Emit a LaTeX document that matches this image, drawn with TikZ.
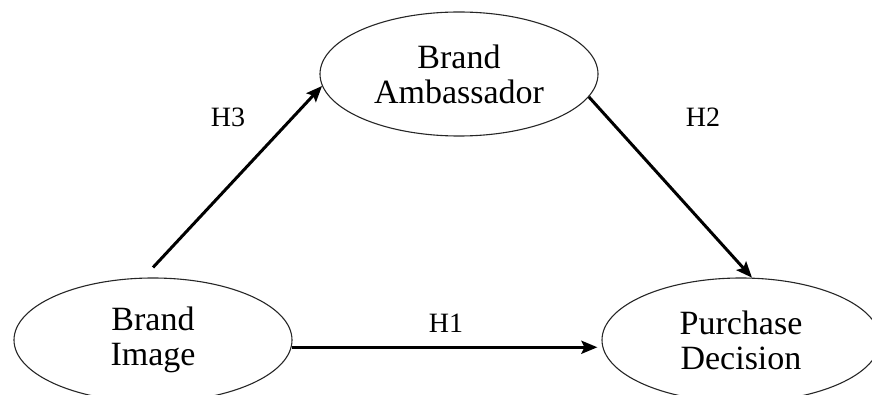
\documentclass[tikz,border=0pt]{standalone}
\usepackage{fontspec}
\setmainfont{Liberation Serif}
\usetikzlibrary{arrows.meta,shapes.geometric}
\tikzset{
  construct/.style={ellipse,draw=black!85,line width=1.1pt,minimum width=278pt,minimum height=124pt,inner sep=0pt,align=center,font=\fontsize{34}{35}\selectfont},
  path/.style={draw=black,line width=3pt,-{Stealth[length=16pt,width=13pt,inset=3pt]}},
  hyp/.style={font=\fontsize{28}{30}\selectfont,inner sep=0pt}
}
\begin{document}
\begin{tikzpicture}[x=1pt,y=1pt]
\useasboundingbox (0,0) rectangle (872,394);
\node[construct] (bi) at (153,54) {Brand\\Image};
\node[construct] (ba) at (459,320) {Brand\\Ambassador};
\node[construct] (pd) at (741,54) {Purchase\\Decision};
\coordinate (h3s) at ([yshift=10pt]bi.north);
\draw[path] (h3s) -- (ba.185);
\draw[path] (ba.-10) -- (pd.80);
\draw[path,shorten >=5pt] (bi.-3) -- (pd.183);
\node[hyp] (l3) at (228,277) {H3};
\node[hyp] (l2) at (703,277) {H2};
\node[hyp] (l1) at (446,71) {H1};
\end{tikzpicture}
\end{document}
